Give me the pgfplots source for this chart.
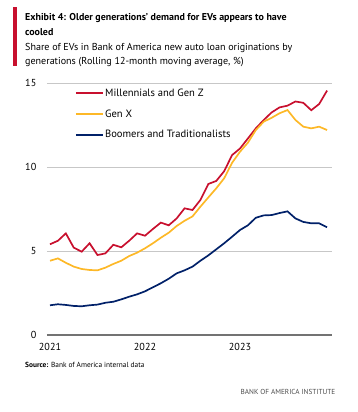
\documentclass[border=0pt]{standalone}
\usepackage{pgfplots}
\pgfplotsset{compat=1.18}
\usepackage{fontspec}
\setmainfont{PT Sans}
\definecolor{bared}{HTML}{C8102E}
\definecolor{byellow}{HTML}{FDB827}
\definecolor{bnavy}{HTML}{012169}
\pgfplotstableread{
m red yellow navy
0 5.40 4.42 1.77
1 5.61 4.56 1.83
2 6.05 4.30 1.79
3 5.20 4.07 1.73
4 4.96 3.93 1.71
5 5.46 3.87 1.77
6 4.76 3.85 1.81
7 4.86 4.01 1.92
8 5.37 4.23 1.98
9 5.22 4.42 2.12
10 5.61 4.70 2.28
11 6.05 4.90 2.42
12 5.91 5.16 2.60
13 6.31 5.46 2.84
14 6.69 5.79 3.08
15 6.53 6.09 3.35
16 6.94 6.49 3.67
17 7.54 6.80 3.85
18 7.44 7.06 4.07
19 8.04 7.64 4.42
20 8.99 8.19 4.74
21 9.17 8.73 5.10
22 9.75 9.33 5.46
23 10.71 10.25 5.85
24 11.10 10.91 6.25
25 11.70 11.45 6.53
26 12.30 12.20 6.98
27 12.80 12.70 7.12
28 13.25 12.93 7.14
29 13.55 13.20 7.26
30 13.65 13.39 7.36
31 13.90 12.80 6.94
32 13.82 12.40 6.73
33 13.38 12.30 6.65
34 13.75 12.40 6.65
35 14.55 12.20 6.41
}\datatable
\begin{document}
\begin{tikzpicture}
\path[use as bounding box] (0,0) rectangle (358bp,-412bp);
\fill[bared] (12.5bp,-6.5bp) rectangle (17.3bp,-65.5bp);
\node[anchor=base west, inner sep=0pt, font=\fontsize{10}{12}\selectfont\bfseries] at (25bp,-20.5bp) {Exhibit 4: Older generations’ demand for EVs appears to have};
\node[anchor=base west, inner sep=0pt, font=\fontsize{10}{12}\selectfont\bfseries] at (25bp,-35bp) {cooled};
\node[anchor=base west, inner sep=0pt, font=\fontsize{10.1}{12}\selectfont] at (25bp,-50.5bp) {Share of EVs in Bank of America new auto loan originations by};
\node[anchor=base west, inner sep=0pt, font=\fontsize{10.1}{12}\selectfont] at (25bp,-64bp) {generations (Rolling 12-month moving average, \%)};
\node[anchor=base west, inner sep=0pt, font=\fontsize{7.4}{8}\selectfont] at (25bp,-367.5bp) {\textbf{Source:} Bank of America internal data};
\node[anchor=base east, inner sep=0pt, font=\fontsize{7.3}{8}\selectfont, text=black!70] at (335.5bp,-394bp) {BANK OF AMERICA INSTITUTE};
\begin{axis}[
  at={(50bp,-335bp)}, anchor=origin,
  scale only axis, width=285bp, height=252bp,
  xmin=-0.4, xmax=35.6, ymin=0, ymax=15,
  axis line style={draw=none},
  xtick={0,12,24}, xticklabels={2021,2022,2023},
  ytick={5,10,15},
  extra y ticks={0},
  extra y tick style={grid style={draw=black!55, line width=1.3pt}},
  major tick length=0pt,
  ymajorgrids, grid style={draw=black!22, line width=1pt},
  tick label style={font=\fontsize{10.2}{11}\selectfont},
  /pgf/number format/assume math mode=true,
  yticklabel style={anchor=east, xshift=-7bp},
  xticklabel style={anchor=north, yshift=-4.5bp},
  legend style={at={(rel axis cs:0.098,0.985)}, anchor=north west, draw=none, fill=none,
    font=\fontsize{10.6}{12}\selectfont, row sep=9bp, inner sep=0pt,
    nodes={inner sep=1.5bp}},
  legend cell align=left,
  legend image code/.code={\draw[#1] (0bp,0bp) -- (27bp,0bp);},
  clip=false,
]
\addplot[bared, line width=1.7pt] table[x=m, y=red] {\datatable};
\addlegendentry{Millennials and Gen Z}
\addplot[byellow, line width=1.7pt] table[x=m, y=yellow] {\datatable};
\addlegendentry{Gen X}
\addplot[bnavy, line width=1.7pt] table[x=m, y=navy] {\datatable};
\addlegendentry{Boomers and Traditionalists}
\end{axis}
\end{tikzpicture}
\end{document}
